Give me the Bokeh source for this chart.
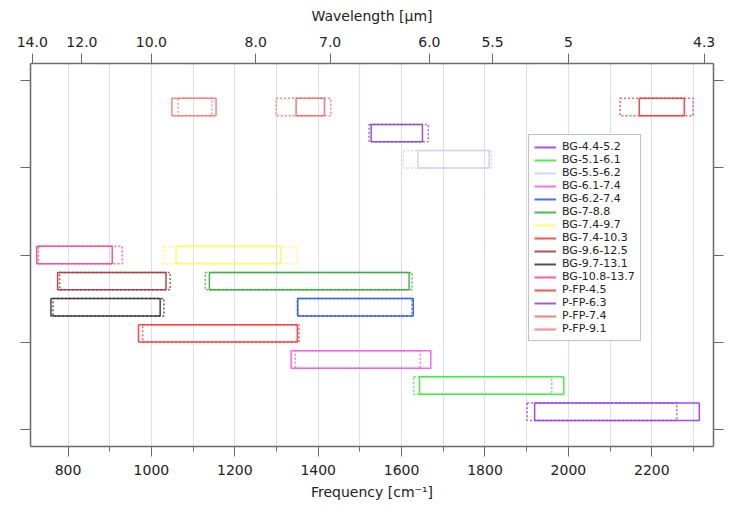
from bokeh.plotting import figure
from bokeh.models import (Range1d, LinearAxis, FixedTicker, CustomJSTickFormatter,
                          Legend, LegendItem, ColumnDataSource)
from bokeh.embed import file_html
from bokeh.resources import INLINE

# ---- data (frequencies in cm^-1) ----
names = ["BG-4.4-5.2", "BG-5.1-6.1", "BG-5.5-6.2", "BG-6.1-7.4", "BG-6.2-7.4",
         "BG-7-8.8", "BG-7.4-9.7", "BG-7.4-10.3", "BG-9.6-12.5", "BG-9.7-13.1",
         "BG-10.8-13.7", "P-FP-4.5", "P-FP-6.3", "P-FP-7.4", "P-FP-9.1"]
row_pos = [0.2, 0.5, 3.1, 0.8, 1.4, 1.7, 2.0, 1.1, 1.7, 1.4, 2.0, 3.7, 3.4, 3.7, 3.7]
solid_lo = [1919, 1643, 1639, 1335, 1351, 1139, 1059, 969, 775, 759, 725, 2170, 1527, 1347, 1049]
solid_hi = [2314, 1989, 1810, 1670, 1628, 1618, 1310, 1350, 1035, 1021, 906, 2278, 1650, 1415, 1155]
dotted_lo = [1901, 1629, 1604, 1345, 1350, 1129, 1029, 979, 780, 764, 729, 2124, 1522, 1299, 1064]
dotted_hi = [2260, 1960, 1815, 1645, 1625, 1625, 1349, 1354, 1045, 1030, 930, 2299, 1664, 1430, 1145]
bar_half = 0.1

wl_ticks = [14.0, 12.0, 10.0, 8.0, 7.0, 6.0, 5.5, 5.0, 4.3]
wl_labels = ["14.0", "12.0", "10.0", "8.0", "7.0", "6.0", "5.5", "5", "4.3"]
freq_major = [800, 1000, 1200, 1400, 1600, 1800, 2000, 2200]
freq_minor = [900, 1100, 1300, 1500, 1700, 1900, 2100, 2300]
grid_ticks = [800, 900, 1000, 1100, 1200, 1300, 1400, 1500, 1600, 1700,
              1800, 1900, 2000, 2100, 2200, 2300]
y_ticks = [0, 1, 2, 3, 4]

colors = ["#9933FF", "#33EE33", "#CCCCFF", "#FF55DD", "#2255FF", "#33AA33",
          "#FFFF44", "#FF3333", "#AA3333", "#333333", "#FF4488", "#FF3333",
          "#8844CC", "#FF6666", "#FF7777"]

FONT = "DejaVu Sans"
AX = "#6A6A6A"

p = figure(frame_width=683, frame_height=383, output_backend="svg",
           toolbar_location=None, x_range=Range1d(710, 2348), y_range=Range1d(-0.2, 4.2),
           min_border_left=30, min_border_right=27, min_border_top=63, min_border_bottom=55,
           x_axis_location=None, y_axis_location=None)
p.outline_line_color = None
p.background_fill_color = "white"
p.border_fill_color = "white"

# grid
p.ygrid.visible = False
p.xgrid.ticker = FixedTicker(ticks=grid_ticks)
p.xgrid.grid_line_color = "#B8B8FF"
p.xgrid.grid_line_dash = "1 1"
p.xgrid.grid_line_width = 1

# axes
bottom = LinearAxis(ticker=FixedTicker(ticks=freq_major, minor_ticks=freq_minor),
                    axis_label="Frequency [cm⁻¹]")
top = LinearAxis(ticker=FixedTicker(ticks=[10000.0 / w for w in wl_ticks]),
                 formatter=CustomJSTickFormatter(
                     args=dict(wl=wl_ticks, labels=wl_labels),
                     code="for (let i = 0; i < wl.length; i++) { if (Math.abs(10000/wl[i] - tick) < 1e-6) return labels[i]; } return '';"),
                 axis_label="Wavelength [μm]")
left = LinearAxis(ticker=FixedTicker(ticks=y_ticks),
                  formatter=CustomJSTickFormatter(code="return '';"))
right = LinearAxis(ticker=FixedTicker(ticks=y_ticks),
                   formatter=CustomJSTickFormatter(code="return '';"))
for ax in (bottom, top, left, right):
    ax.axis_line_color = AX
    ax.axis_line_width = 1.5
    ax.major_tick_line_color = AX
    ax.minor_tick_line_color = AX
    ax.major_tick_in = 0
    ax.major_tick_out = 10
    ax.minor_tick_in = 0
    ax.minor_tick_out = 0
    ax.major_label_text_font = FONT
    ax.major_label_text_font_size = "14px"
    ax.major_label_text_color = "#222222"
    ax.axis_label_text_font = FONT
    ax.axis_label_text_font_size = "14px"
    ax.axis_label_text_font_style = "normal"
    ax.axis_label_text_color = "#222222"
bottom.minor_tick_out = 5
bottom.major_label_standoff = 8
bottom.axis_label_standoff = 6
top.major_label_standoff = 7
top.axis_label_standoff = 10
left.major_label_standoff = 0
right.major_label_standoff = 0
p.add_layout(bottom, "below")
p.add_layout(top, "above")
p.add_layout(left, "left")
p.add_layout(right, "right")

# bars
items = []
nan = float("nan")
for i, name in enumerate(names):
    src_d = ColumnDataSource(dict(l=[dotted_lo[i]], r=[dotted_hi[i]],
                                  b=[row_pos[i] - bar_half], t=[row_pos[i] + bar_half]))
    src_s = ColumnDataSource(dict(l=[solid_lo[i]], r=[solid_hi[i]],
                                  b=[row_pos[i] - bar_half], t=[row_pos[i] + bar_half]))
    p.quad(left="l", right="r", bottom="b", top="t", source=src_d, fill_color=None,
           line_color=colors[i], line_width=1.5, line_dash="2 2", line_alpha=0.8)
    p.quad(left="l", right="r", bottom="b", top="t", source=src_s, fill_color=None,
           line_color=colors[i], line_width=1.5, line_alpha=0.9)
    lr = p.line(x=[nan], y=[nan], line_color=colors[i], line_width=2, line_alpha=0.85)
    items.append(LegendItem(label=name, renderers=[lr]))

legend = Legend(items=items, location=(498, 105))
legend.label_text_font = FONT
legend.label_text_font_size = "11px"
legend.label_text_color = "#222222"
legend.label_height = 12
legend.glyph_height = 12
legend.glyph_width = 22
legend.label_standoff = 6
legend.spacing = 0
legend.padding = 5
legend.margin = 0
legend.border_line_color = "#888888"
legend.border_line_width = 1.5
legend.background_fill_color = "white"
legend.background_fill_alpha = 1.0
p.add_layout(legend, "center")

open("out.html", "w").write(file_html(p, INLINE))
